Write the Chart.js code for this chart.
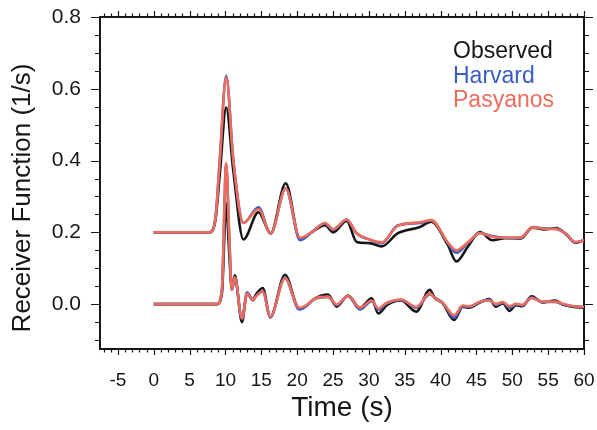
<!DOCTYPE html>
<html>
<head>
<meta charset="utf-8">
<script src="https://cdn.jsdelivr.net/npm/chart.js@4/dist/chart.umd.min.js"></script>
<style>
  html, body { margin: 0; padding: 0; background: #ffffff; }
  #wrap { width: 597px; height: 430px; }
</style>
</head>
<body>
<div id="wrap"><canvas id="rf" width="597" height="430"></canvas></div>
<script>
// Receiver functions: upper trace offset by 0.2, lower trace at 0.
const timeUpper = [0, 7.8, 8.6, 9.2, 10.1, 11.1, 12.5, 14.6, 16.3, 18.4, 20.4, 22.0, 23.9, 25.0, 26.9, 28.3, 30.1, 31.8, 34.0, 37.1, 38.7, 41.0, 42.2, 43.8, 45.5, 47.2, 49.0, 51.2, 52.8, 54.5, 56.1, 57.5, 58.8, 60.0];
const observedUpper = [0.2, 0.2, 0.235, 0.36, 0.548, 0.37, 0.18, 0.256, 0.197, 0.337, 0.18, 0.2, 0.22, 0.2, 0.232, 0.173, 0.17, 0.161, 0.197, 0.215, 0.23, 0.165, 0.119, 0.16, 0.201, 0.178, 0.184, 0.183, 0.213, 0.208, 0.212, 0.195, 0.171, 0.178];
const harvardUpper = [0.2, 0.2, 0.24, 0.4, 0.636, 0.4, 0.226, 0.27, 0.197, 0.322, 0.178, 0.2, 0.225, 0.207, 0.235, 0.197, 0.18, 0.17, 0.219, 0.226, 0.233, 0.17, 0.143, 0.17, 0.198, 0.19, 0.185, 0.184, 0.215, 0.211, 0.21, 0.195, 0.172, 0.178];
const pasyanosUpper = [0.2, 0.2, 0.24, 0.4, 0.632, 0.4, 0.226, 0.265, 0.197, 0.322, 0.185, 0.2, 0.226, 0.209, 0.236, 0.198, 0.18, 0.172, 0.218, 0.228, 0.234, 0.172, 0.15, 0.172, 0.198, 0.188, 0.185, 0.186, 0.214, 0.21, 0.209, 0.196, 0.173, 0.178];

const timeLower = [0, 8.8, 9.5, 10.1, 10.5, 10.9, 11.3, 12.3, 13.0, 13.85, 14.2, 15.2, 16.25, 18.3, 20.0, 20.4, 21.3, 22.4, 24.3, 25.5, 27.1, 28.75, 30.4, 31.3, 32.5, 34.5, 36.6, 38.5, 39.2, 40.3, 41.9, 43.1, 44.0, 45.4, 46.8, 47.7, 48.7, 49.6, 50.5, 51.4, 52.7, 54.2, 56.0, 57.0, 58.4, 60.0];
const observedLower = [0, 0, 0.03, 0.28, 0.15, 0.04, 0.08, -0.05, 0.03, 0.012, 0.025, 0.045, -0.037, 0.082, -0.007, -0.012, -0.004, 0.015, 0.027, -0.007, 0.024, -0.01, 0.016, -0.026, -0.003, 0.01, -0.021, 0.04, 0.017, 0.002, -0.044, -0.007, -0.01, 0.004, 0.014, -0.007, 0.002, -0.019, -0.003, -0.006, 0.022, 0.005, 0.01, -0.001, -0.007, -0.01];
const harvardLower = [0, 0, 0.04, 0.39, 0.2, 0.04, 0.072, -0.04, 0.032, 0.01, 0.022, 0.035, -0.035, 0.074, -0.01, -0.015, -0.005, 0.014, 0.02, -0.003, 0.022, -0.015, 0.008, -0.015, 0.002, 0.012, -0.01, 0.028, 0.018, 0.004, -0.038, -0.005, -0.008, 0.005, 0.012, -0.002, 0.004, -0.01, -0.001, -0.004, 0.018, 0.006, 0.006, 0, -0.006, -0.008];
const pasyanosLower = [0, 0, 0.04, 0.393, 0.2, 0.04, 0.075, -0.04, 0.028, 0.012, 0.02, 0.035, -0.035, 0.072, -0.006, -0.01, -0.003, 0.015, 0.021, -0.001, 0.023, -0.01, 0.01, -0.012, 0.004, 0.013, -0.008, 0.03, 0.016, 0.004, -0.031, -0.004, -0.006, 0.006, 0.01, 0, 0.006, -0.006, 0.001, -0.002, 0.017, 0.007, 0.007, 0.001, -0.005, -0.008];

const xTickLabels = [-5, 0, 5, 10, 15, 20, 25, 30, 35, 40, 45, 50, 55, 60];
const yTickLabels = [0.0, 0.2, 0.4, 0.6, 0.8];
const seriesNames = ['Observed', 'Harvard', 'Pasyanos'];
const seriesColors = ['#161616', '#3a5cc4', '#ec6b5b'];
const yTitle = 'Receiver Function (1/s)';

const X_MIN = -7.5, X_MAX = 60, Y_MIN = -0.125, Y_MAX = 0.8;
const FONT = '"Liberation Sans", Arial, Helvetica, sans-serif';

function pairs(times, values) {
  return times.map((t, i) => ({ x: t, y: values[i] }));
}

function trace(name, color, times, values, order) {
  return {
    label: name,
    data: pairs(times, values),
    borderColor: color,
    borderWidth: 2.6,
    pointRadius: 0,
    fill: false,
    cubicInterpolationMode: 'monotone',
    order: order
  };
}

const datasets = [
  trace(seriesNames[0], seriesColors[0], timeUpper, observedUpper, 2),
  trace(seriesNames[1], seriesColors[1], timeUpper, harvardUpper, 1),
  trace(seriesNames[2], seriesColors[2], timeUpper, pasyanosUpper, 0),
  trace(seriesNames[0], seriesColors[0], timeLower, observedLower, 2),
  trace(seriesNames[1], seriesColors[1], timeLower, harvardLower, 1),
  trace(seriesNames[2], seriesColors[2], timeLower, pasyanosLower, 0)
];

// Keep the frame fixed: no extra room reserved for overhanging edge labels.
function noOverhang(s) {
  s.paddingLeft = 0; s.paddingRight = 0; s.paddingTop = 0; s.paddingBottom = 0;
}

// Frame tick marks on all four sides (major + minor), drawn outward.
const frameTicks = {
  id: 'frameTicks',
  afterDraw(chart) {
    const { ctx, chartArea: a } = chart;
    const xs = chart.scales.x, ys = chart.scales.y;
    ctx.save();
    ctx.strokeStyle = '#161616';
    ctx.lineWidth = 1.2;
    ctx.beginPath();
    for (let t = -7; t <= 60; t++) {
      const px = Math.round(xs.getPixelForValue(t)) + 0.5;
      const len = (t % 5 === 0) ? 6 : 3.5;
      ctx.moveTo(px, a.bottom); ctx.lineTo(px, a.bottom + len);
      ctx.moveTo(px, a.top); ctx.lineTo(px, a.top - len);
    }
    for (let k = -2; k <= 16; k++) {
      const v = k * 0.05;
      const py = Math.round(ys.getPixelForValue(v)) + 0.5;
      const len = (k % 4 === 0) ? 9 : 5;
      ctx.moveTo(a.left, py); ctx.lineTo(a.left - len, py);
      ctx.moveTo(a.right, py); ctx.lineTo(a.right + len, py);
    }
    ctx.stroke();
    ctx.restore();
  }
};

// Coloured text legend inside the plot area, and the rotated y-axis title.
const textLegend = {
  id: 'textLegend',
  afterDraw(chart) {
    const { ctx } = chart;
    ctx.save();
    ctx.font = '23px ' + FONT;
    ctx.textAlign = 'left';
    ctx.textBaseline = 'middle';
    const rows = [52, 77, 101];
    seriesNames.forEach((n, i) => {
      ctx.fillStyle = seriesColors[i];
      ctx.fillText(n, 453, rows[i]);
    });
    ctx.translate(23, 198);
    ctx.rotate(-Math.PI / 2);
    ctx.textAlign = 'center';
    ctx.fillStyle = '#161616';
    ctx.font = '26px ' + FONT;
    ctx.fillText(yTitle, 0, 0);
    ctx.restore();
  }
};

new Chart(document.getElementById('rf'), {
  type: 'line',
  data: { datasets },
  plugins: [frameTicks, textLegend],
  options: {
    responsive: false,
    devicePixelRatio: 1,
    animation: false,
    events: [],
    layout: { padding: 0 },
    plugins: { legend: { display: false }, tooltip: { enabled: false } },
    scales: {
      x: {
        type: 'linear', position: 'bottom', min: X_MIN, max: X_MAX,
        afterBuildTicks: s => { s.ticks = xTickLabels.map(v => ({ value: v })); },
        afterFit: s => { s.height = 81; noOverhang(s); },
        grid: { display: false, drawTicks: false },
        border: { display: true, color: '#161616', width: 2 },
        ticks: { color: '#161616', padding: 20, maxRotation: 0, autoSkip: false,
                 font: { family: FONT, size: 19 } },
        title: { display: true, text: 'Time (s)', color: '#161616',
                 font: { family: FONT, size: 28 }, padding: { top: 0, bottom: 5 } }
      },
      xTop: {
        type: 'linear', position: 'top', min: X_MIN, max: X_MAX,
        afterFit: s => { s.height = 17; noOverhang(s); },
        grid: { display: false, drawTicks: false },
        border: { display: true, color: '#161616', width: 2 },
        ticks: { display: false }
      },
      y: {
        type: 'linear', position: 'left', min: Y_MIN, max: Y_MAX,
        afterBuildTicks: s => { s.ticks = yTickLabels.map(v => ({ value: v })); },
        afterFit: s => { s.width = 100; noOverhang(s); },
        grid: { display: false, drawTicks: false },
        border: { display: true, color: '#161616', width: 2 },
        ticks: { color: '#161616', padding: 19, font: { family: FONT, size: 21 },
                 callback: v => Number(v).toFixed(1) }
      },
      yRight: {
        type: 'linear', position: 'right', min: Y_MIN, max: Y_MAX,
        afterFit: s => { s.width = 13; noOverhang(s); },
        grid: { display: false, drawTicks: false },
        border: { display: true, color: '#161616', width: 2 },
        ticks: { display: false }
      }
    }
  }
});
</script>
</body>
</html>
